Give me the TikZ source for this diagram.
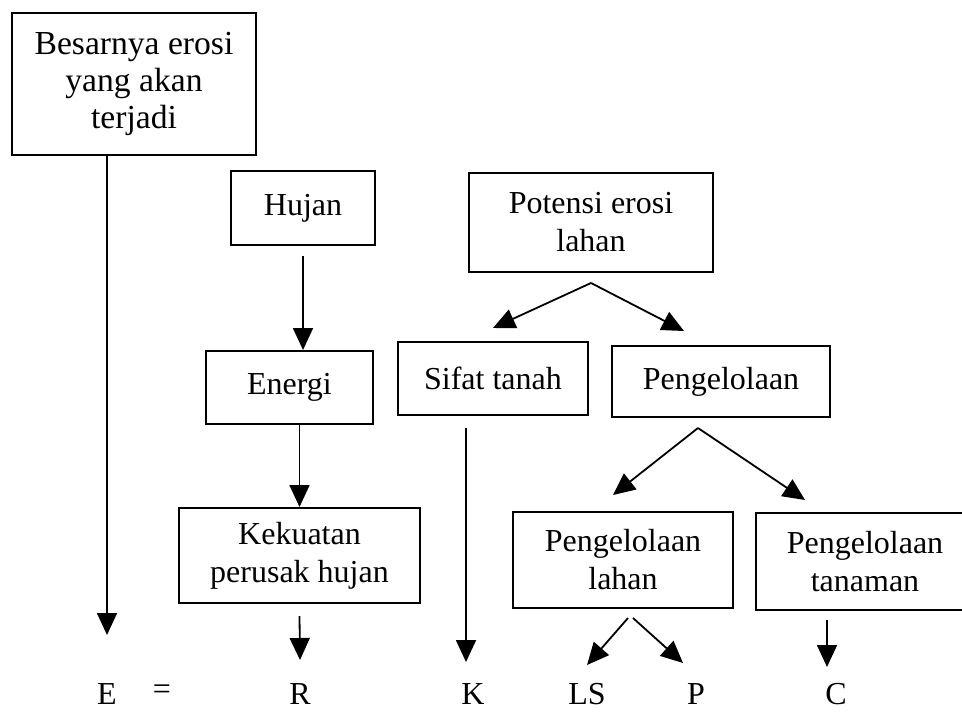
\documentclass[tikz,border=0pt]{standalone}
\usepackage{fontspec}
\setmainfont{Liberation Serif}
\usetikzlibrary{arrows.meta}
\begin{document}
\begin{tikzpicture}[x=0.5pt,y=-0.5pt,
  box/.style={draw, line width=1pt, align=center, inner sep=0pt, font=\fontsize{16}{19}\selectfont},
  lbl/.style={inner sep=0pt, font=\fontsize{16}{19}\selectfont},
  arr/.style={line width=0.9pt, -{Triangle[width=10pt,length=11pt]}}]
\useasboundingbox (0,0) rectangle (962,711);
\begin{scope}
\clip (0,0) rectangle (962,711);
% boxes
\node[box, minimum width=122pt, minimum height=71pt, font=\fontsize{16.8}{18.6}\selectfont] (b1) at (134,84) {Besarnya erosi\\yang akan\\terjadi};
\node[box, minimum width=72pt, minimum height=37pt] (hujan) at (303,208) {Hujan};
\node[box, minimum width=122pt, minimum height=49.5pt] (pot) at (591,222.5) {Potensi erosi\\lahan};
\node[box, minimum width=83.5pt, minimum height=36.5pt] (energi) at (289.5,387.5) {Energi};
\node[box, minimum width=95pt, minimum height=36.5pt] (sifat) at (493,378.5) {Sifat tanah};
\node[box, minimum width=109pt, minimum height=35.5pt] (peng) at (721,381.5) {Pengelolaan};
\node[box, minimum width=120.5pt, minimum height=47.5pt] (kek) at (299.5,555.5) {Kekuatan\\perusak hujan};
\node[box, minimum width=110pt, minimum height=48pt] (lahan) at (623,560) {Pengelolaan\\lahan};
\node[box, minimum width=109pt, minimum height=48.5pt] (tan) at (865,561.5) {Pengelolaan\\tanaman};
% bottom labels
\node[lbl] (E) at (107,694) {E};
\node[lbl] (eq) at (162,692) {=};
\node[lbl] (R) at (300,694) {R};
\node[lbl] (K) at (473,694) {K};
\node[lbl] (LS) at (587,694) {LS};
\node[lbl] (P) at (696,694) {P};
\node[lbl] (C) at (836,694) {C};
% apex points
\coordinate (pa) at ([yshift=-5pt]pot.south);
\coordinate (pb) at ([xshift=-11.5pt,yshift=-5pt]peng.south);
% connectors
\draw[arr] (b1.south -| E.center) -- ([yshift=29.5pt]E.center);
\draw[arr] ([yshift=-5pt]hujan.south) -- (hujan.south |- energi.north);
\draw[arr] (energi.south -| kek.north) -- (kek.north);
\draw[arr] ([yshift=-6pt]kek.south) -- ([yshift=17pt]R.center);
\draw[arr] (pa) -- ([yshift=6.5pt]sifat.north);
\draw[arr] (pa) -- ([xshift=-18.5pt,yshift=7pt]peng.north);
\draw[arr] ([xshift=-13.5pt,yshift=-6pt]sifat.south) -- ([xshift=-3.5pt,yshift=16pt]K.center);
\draw[arr] (pb) -- ([xshift=-5pt,yshift=8pt]lahan.north);
\draw[arr] (pb) -- ([xshift=-30pt,yshift=6pt]tan.north);
\draw[arr] ([xshift=2.5pt,yshift=-4.5pt]lahan.south) -- ([yshift=14.5pt]LS.center);
\draw[arr] ([xshift=5pt,yshift=-4.5pt]lahan.south) -- ([xshift=-6.5pt,yshift=15.5pt]P.center);
\draw[arr] ([xshift=-19pt,yshift=-4.5pt]tan.south) -- ([xshift=-4.5pt,yshift=13.5pt]C.center);
\end{scope}
\end{tikzpicture}
\end{document}
